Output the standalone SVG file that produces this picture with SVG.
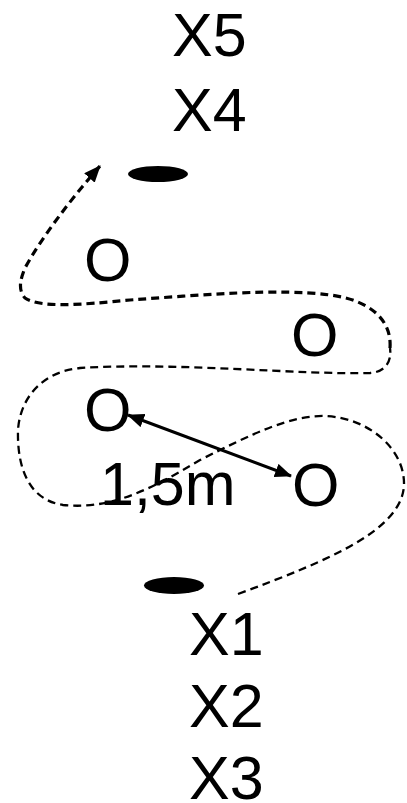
<svg xmlns="http://www.w3.org/2000/svg" width="407" height="803" viewBox="0 0 407 803">
<style>
.t{font-family:"Liberation Sans",Arial,sans-serif;font-size:61px;fill:#000}
.d{fill:none;stroke:#000;stroke-dasharray:8,5}
</style>
<defs>
<marker id="ah" markerUnits="userSpaceOnUse" markerWidth="17" markerHeight="14" refX="16" refY="7" orient="auto-start-reverse"><path d="M0,0 L17,7 L0,14 Z" fill="#000"/></marker>
</defs>
<rect width="407" height="803" fill="#fff"/>
<g id="x5"><text class="t" x="172" y="56">X5</text></g>
<g id="x4"><text class="t" x="172" y="131">X4</text></g>
<g id="cone-top"><ellipse cx="158" cy="174" rx="30" ry="8" fill="#000"/></g>
<g id="o1"><text class="t" x="84" y="281">O</text></g>
<g id="o2"><text class="t" x="291" y="356">O</text></g>
<g id="o3"><text class="t" x="84" y="431">O</text></g>
<g id="o4"><text class="t" x="292" y="506">O</text></g>
<g id="dist"><text class="t" x="100" y="505">1,5m</text></g>
<g id="cone-bottom"><ellipse cx="174" cy="585.5" rx="30" ry="8.5" fill="#000"/></g>
<g id="x1"><text class="t" x="189" y="655">X1</text></g>
<g id="x2"><text class="t" x="189" y="727">X2</text></g>
<g id="x3"><text class="t" x="189" y="799">X3</text></g>
<g id="connectors">
<path class="d" stroke-width="2.3" d="M238,594 C330,560 402,530 404,485 C405,450 370,418 325,416 C290,415 250,435 200,460 C150,490 110,510 63,505 C30,500 17,470 18,430 C20,400 40,372 80,368 C180,362 300,375 370,373 C385,372 392,362 390,348"/>
<path class="d" stroke-width="3.2" marker-end="url(#ah)" d="M390,348 C392,320 370,300 330,295 C280,288 200,295 130,300 C80,305 40,308 25,298 C18,290 20,280 25,268 C40,240 70,200 100,166"/>
<line x1="128" y1="415" x2="291" y2="476" stroke="#000" stroke-width="3" marker-start="url(#ah)" marker-end="url(#ah)"/>
</g>
</svg>
